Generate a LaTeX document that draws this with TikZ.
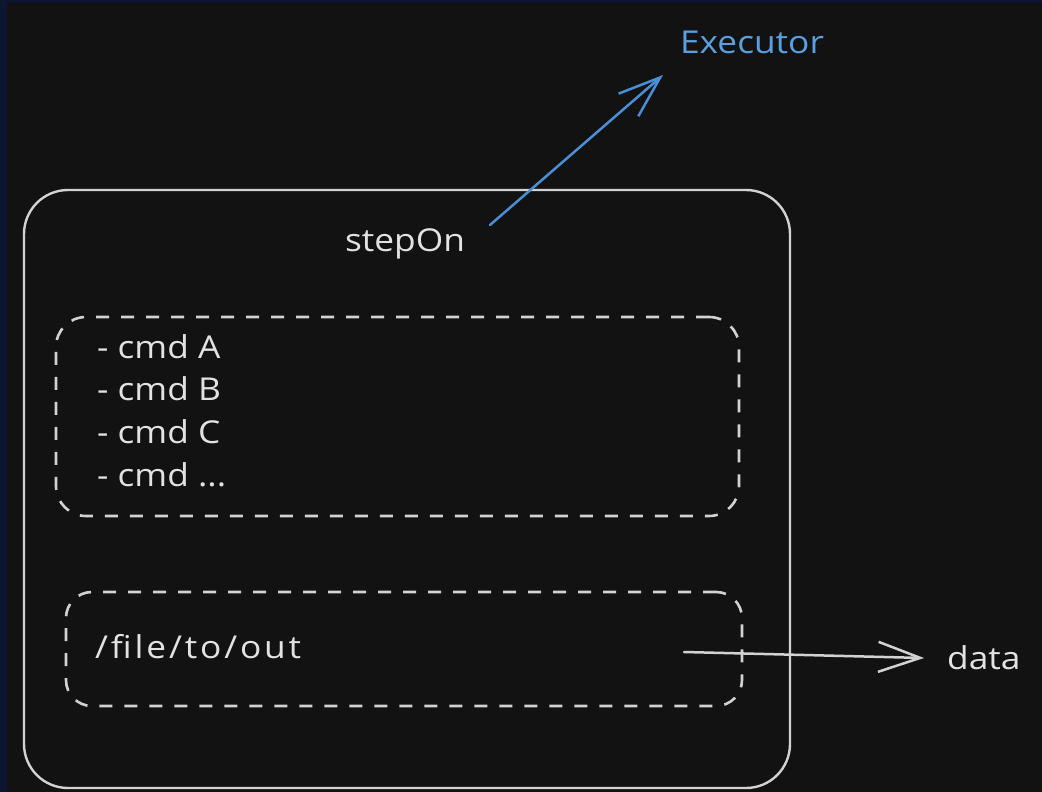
\documentclass[tikz,border=0pt]{standalone}
\usepackage{fontspec}
\setmainfont[FakeStretch=1.12]{Open Sans}
\newfontfamily\spacedfont[FakeStretch=1.12, LetterSpace=9]{Open Sans}
\usetikzlibrary{arrows.meta}

\definecolor{bg}{HTML}{121212}
\definecolor{frame}{HTML}{0E1530}
\definecolor{ink}{HTML}{E2E2E2}
\definecolor{linegray}{HTML}{D2D2D2}
\definecolor{sky}{HTML}{5B9FE0}
\definecolor{skyline}{HTML}{4A8ED6}

\tikzset{
  label text/.style={text=ink, inner sep=0pt, font=\fontsize{31.5}{36}\selectfont},
  panel/.style={draw=linegray, line width=2.4pt, rounded corners=44pt,
    inner sep=0pt, minimum width=#1},
  dashpanel/.style={draw=linegray, line width=2.6pt, rounded corners=30pt,
    dash pattern=on 13pt off 12pt, inner sep=0pt},
  barb/.style={-{Straight Barb[length=42pt,width=30pt,line width=2.5pt]},
    line width=2.5pt, line cap=round},
}

\begin{document}
\begin{tikzpicture}[x=1pt,y=-1pt]
  % canvas
  \useasboundingbox (0,0) rectangle (1042,792);
  \fill[frame] (0,0) rectangle (1042,792);
  \fill[bg] (7,3) rectangle (1042,792);

  % outer container
  \node[panel=766pt, minimum height=598pt] (outer) at (407,489) {};

  % command list box
  \node[dashpanel, minimum width=683pt, minimum height=199pt] (cmds) at (397.5,416.5) {};

  % output path box
  \node[dashpanel, rounded corners=26pt, minimum width=676pt, minimum height=114pt] (outbox) at (404,649) {};

  % texts
  \node[label text] (stepon) at (405,244) {stepOn};
  \node[label text, text=sky] (executor) at (752,42) {Executor};
  \node[label text, anchor=west] (cmda) at (97,347) {- cmd A};
  \node[label text, anchor=west] (cmdb) at (97,389) {- cmd B};
  \node[label text, anchor=west] (cmdc) at (97,432) {- cmd C};
  \node[label text, anchor=west] (cmdd) at (97,475) {- cmd ...};
  \node[label text, anchor=west, font=\spacedfont\fontsize{31.5}{36}\selectfont] (path) at (95,647) {/file/to/out};
  \node[label text, anchor=west] (data) at (947,658) {data};

  % connectors
  \coordinate (stepsrc) at (490,225);
  \coordinate (exectip) at (663,75);
  \draw[barb, draw=skyline] (stepsrc) -- (exectip);

  \coordinate (pathsrc) at (684,652);
  \draw[barb, draw=linegray] (pathsrc) -- ([xshift=-23pt]data.west);
\end{tikzpicture}
\end{document}
